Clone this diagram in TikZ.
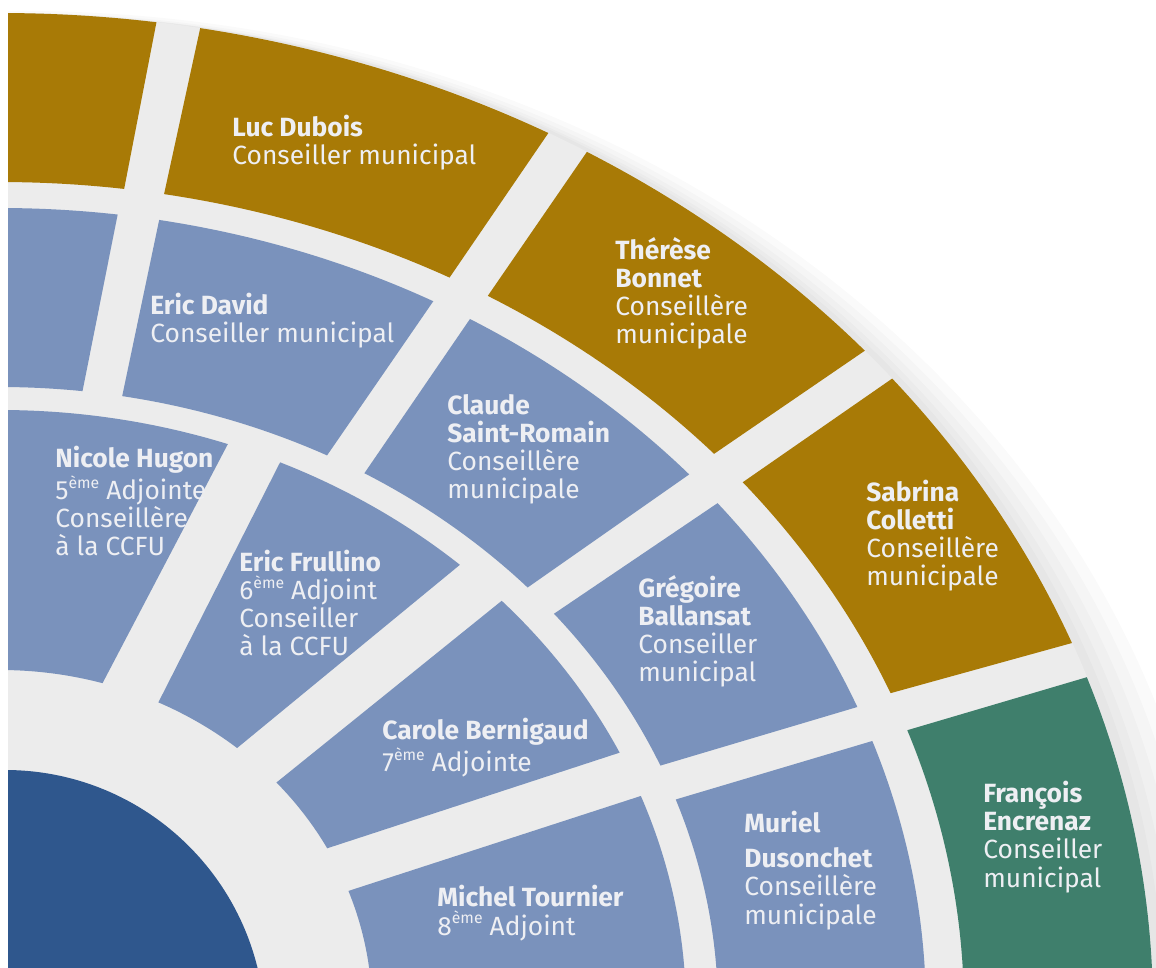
\documentclass[tikz,border=0pt]{standalone}
\usepackage{fontspec}
\setmainfont{Fira Sans}
\usepackage{xcolor}
\definecolor{seatgold}{HTML}{A87A06}
\definecolor{seatblue}{HTML}{7A92BC}
\definecolor{seatgreen}{HTML}{3F7F6C}
\definecolor{hubblue}{HTML}{2F578D}
\definecolor{gapgray}{HTML}{ECECEC}
\definecolor{seattext}{HTML}{EEEFF3}
\newcommand{\eme}{\raisebox{0.85ex}{\fontsize{9}{9}\selectfont ème}}

\begin{document}
\begin{tikzpicture}[
  x=0.02cm, y=0.02cm,
  font=\fontsize{15}{15.94}\selectfont,
  ringgold/.style={fill=seatgold},
  ringblue/.style={fill=seatblue},
  ringgreen/.style={fill=seatgreen},
  hub/.style={fill=hubblue},
  halo/.style={fill=black, opacity=0.02},
  who/.style={anchor=base west, align=left, inner sep=0pt, text=seattext}
]
\useasboundingbox (0,0) rectangle (1156,967);
\clip (8,0) rectangle (1156,967);

% soft shadow and the light gaps
\fill[halo] (22,-68) ellipse[x radius=1198, y radius=1024];
\fill[halo] (18,-62) ellipse[x radius=1186, y radius=1016];
\fill[halo] (14,-56) ellipse[x radius=1175, y radius=1009];
\fill[halo] (10,-50) ellipse[x radius=1165, y radius=1003];
\fill[halo] (6,-46) ellipse[x radius=1158, y radius=1000];
\fill[gapgray] (0,-43) ellipse[x radius=1153, y radius=997];

\begin{scope}[shift={(0,-43)}]
% outer ring
\fill[ringgold] (100:1153 and 997) arc[start angle=100, end angle=82.2, x radius=1153, y radius=997]
  -- (82.6:964 and 828) arc[start angle=82.6, end angle=100, x radius=964, y radius=828] -- cycle;
\fill[ringgold] (80.0:1153 and 997) arc[start angle=80.0, end angle=61.6, x radius=1153, y radius=997]
  -- (62.2:964 and 828) arc[start angle=62.2, end angle=80.2, x radius=964, y radius=828] -- cycle;
\fill[ringgold] (59.4:1153 and 997) arc[start angle=59.4, end angle=41.4, x radius=1153, y radius=997]
  -- (42.2:964 and 828) arc[start angle=42.2, end angle=59.6, x radius=964, y radius=828] -- cycle;
\fill[ringgold] (39.3:1153 and 997) arc[start angle=39.3, end angle=21.6, x radius=1153, y radius=997]
  -- (22.5:964 and 828) arc[start angle=22.5, end angle=39.6, x radius=964, y radius=828] -- cycle;
\fill[ringgreen] (19.5:1153 and 997) arc[start angle=19.5, end angle=-10, x radius=1153, y radius=997]
  -- (-10:964 and 828) arc[start angle=-10, end angle=19.75, x radius=964, y radius=828] -- cycle;

% middle ring
\fill[ringblue] (100:926 and 802) arc[start angle=100, end angle=82.7, x radius=926, y radius=802]
  -- (83.4:718 and 623) arc[start angle=83.4, end angle=100, x radius=718, y radius=623] -- cycle;
\fill[ringblue] (80.1:926 and 802) arc[start angle=80.1, end angle=62.1, x radius=926, y radius=802]
  -- (62.9:718 and 623) arc[start angle=62.9, end angle=80.2, x radius=718, y radius=623] -- cycle;
\fill[ringblue] (59.5:926 and 802) arc[start angle=59.5, end angle=41.9, x radius=926, y radius=802]
  -- (42.7:718 and 623) arc[start angle=42.7, end angle=59.5, x radius=718, y radius=623] -- cycle;
\fill[ringblue] (39.2:926 and 802) arc[start angle=39.2, end angle=22.2, x radius=926, y radius=802]
  -- (23.1:718 and 623) arc[start angle=23.1, end angle=39.5, x radius=718, y radius=623] -- cycle;
\fill[ringblue] (19.6:926 and 802) arc[start angle=19.6, end angle=-10, x radius=926, y radius=802]
  -- (-10:718 and 623) arc[start angle=-10, end angle=19.75, x radius=718, y radius=623] -- cycle;

% inner ring
\fill[ringblue] (100:686 and 600) arc[start angle=100, end angle=70.6, x radius=686, y radius=600]
  -- (74.0:372 and 340) arc[start angle=74.0, end angle=100, x radius=372, y radius=340] -- cycle;
\fill[ringblue] (65.9:686 and 600) arc[start angle=65.9, end angle=47.9, x radius=686, y radius=600]
  -- (50.4:372 and 340) arc[start angle=50.4, end angle=64.8, x radius=372, y radius=340] -- cycle;
\fill[ringblue] (43.0:686 and 600) arc[start angle=43.0, end angle=25.4, x radius=686, y radius=600]
  -- (28.4:372 and 340) arc[start angle=28.4, end angle=42.0, x radius=372, y radius=340] -- cycle;
\fill[ringblue] (20.9:686 and 600) arc[start angle=20.9, end angle=-10, x radius=686, y radius=600]
  -- (-10:372 and 340) arc[start angle=-10, end angle=20.5, x radius=372, y radius=340] -- cycle;
\end{scope}

% centre
\fill[hub] (5,-63) circle[radius=260];

% outer ring names
\node[who] (dubois) at (232,802) {\textbf{Luc Dubois}\\Conseiller municipal};
\node[who] (bonnet) at (615,623) {\textbf{Thérèse}\\\textbf{Bonnet}\\Conseillère\\municipale};
\node[who] (colletti) at (866,381) {\textbf{Sabrina}\\\textbf{Colletti}\\Conseillère\\municipale};
\node[who] (encrenaz) at (983,80) {\textbf{François}\\\textbf{Encrenaz}\\Conseiller\\municipal};

% middle ring names
\node[who] (david) at (150,624) {\textbf{Eric David}\\Conseiller municipal};
\node[who] (romain) at (447,468) {\textbf{Claude}\\\textbf{Saint-Romain}\\Conseillère\\municipale};
\node[who] (ballansat) at (638,285) {\textbf{Grégoire}\\\textbf{Ballansat}\\Conseiller\\municipal};
\node[who] (dusonchet) at (744,43) {\textbf{Muriel}\\[4pt]\textbf{Dusonchet}\\Conseillère\\municipale};

% inner ring names
\node[who] (hugon) at (55,411) {\textbf{Nicole Hugon}\\5\eme{} Adjointe\\Conseillère\\à la CCFU};
\node[who] (frullino) at (239,311) {\textbf{Eric Frullino}\\6\eme{} Adjoint\\Conseiller\\à la CCFU};
\node[who] (bernigaud) at (382,195) {\textbf{Carole Bernigaud}\\7\eme{} Adjointe};
\node[who] (tournier) at (437,32) {\textbf{Michel Tournier}\\8\eme{} Adjoint};

\end{tikzpicture}
\end{document}
